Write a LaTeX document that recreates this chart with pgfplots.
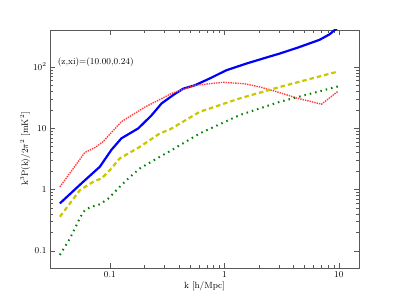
\documentclass[border=0pt]{standalone}
\usepackage{pgfplots}
\pgfplotsset{compat=1.18}
\definecolor{cred}{RGB}{255,60,60}
\definecolor{cyel}{RGB}{200,200,0}
\definecolor{cgrn}{RGB}{0,128,0}
\begin{document}
\begin{tikzpicture}[x=1pt,y=1pt]
\useasboundingbox (0,0) rectangle (399,299);
\begin{axis}[
  at={(50pt,31pt)}, anchor=south west,
  scale only axis, width=309pt, height=238pt,
  xmode=log, ymode=log,
  xmin=0.03, xmax=15, ymin=0.052, ymax=400,
  axis line style={gray!70!black, line width=0.8pt},
  tick style={gray!70!black},
  tick align=inside,
  major tick length=5pt, minor tick length=3pt,
  xtick={0.1,1,10}, xticklabels={0.1,1,10},
  ytick={0.1,1,10,100}, yticklabels={0.1,1,10,$10^2$},
  tick label style={font=\small},
  xlabel={k [h/Mpc]}, ylabel={k$^3$P(k)/2$\pi^2$ [mK$^2$]},
  label style={font=\small},
  xlabel style={yshift=3pt},
  ylabel style={yshift=-4pt},
  clip=true,
  every axis plot/.append style={line join=round},
]
\addplot[blue, line width=2.2pt] coordinates {
(0.0366,0.59) (0.0585,1.33) (0.0818,2.34) (0.103,4.4) (0.126,6.8) (0.177,9.9) (0.23,16) (0.283,25.3) (0.36,35) (0.436,44) (0.552,50) (0.75,65) (1.04,88) (1.6,115) (2.5,148) (3.05,165) (4.5,210) (6.8,277) (8.3,340) (9.2,400) (10,450)};
\addplot[cred, line width=1.4pt, densely dotted] coordinates {
(0.0366,1.1) (0.0605,4.0) (0.074,4.8) (0.087,6.0) (0.126,12.7) (0.202,22) (0.346,36.8) (0.552,50) (0.98,56) (1.5,53) (2.04,47) (3.05,38) (4.27,31) (7.06,24.6) (9.86,40)};
\addplot[cyel, line width=2.2pt, dash pattern=on 4.5pt off 3pt] coordinates {
(0.0366,0.357) (0.0448,0.59) (0.0547,0.97) (0.0715,1.33) (0.0846,1.51) (0.1,2.06) (0.122,3.2) (0.183,4.95) (0.273,8.2) (0.334,9.5) (0.61,18.5) (1.36,30.5) (3.05,47) (9.86,84)};
\addplot[cgrn, line width=2pt, dash pattern=on 1.5pt off 4pt] coordinates {
(0.0366,0.085) (0.0448,0.158) (0.0528,0.296) (0.0585,0.43) (0.0669,0.51) (0.0818,0.57) (0.097,0.71) (0.122,1.1) (0.145,1.51) (0.183,2.2) (0.273,3.4) (0.334,4.2) (0.61,8.2) (1.36,16.3) (3.05,26.9) (9.86,48)};
\node[anchor=west, font=\small, inner sep=0pt] at (axis cs:0.035,119) {(z,xi)=(10.00,0.24)};
\end{axis}
\end{tikzpicture}
\end{document}
